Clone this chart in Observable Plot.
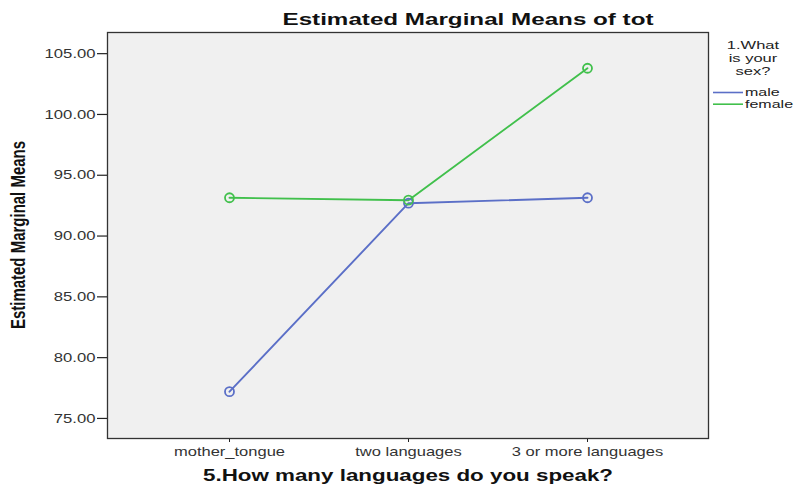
<!DOCTYPE html>
<html><head><meta charset="utf-8">
<script src="https://cdn.jsdelivr.net/npm/d3@7"></script>
<script src="https://cdn.jsdelivr.net/npm/@observablehq/plot@0.6"></script>
<style>body{margin:0;background:#fff;} svg{display:block}</style>
</head><body><div id="chart"></div>
<script>
const categories = ["mother_tongue", "two languages", "3 or more languages"];
const seriesNames = ["male", "female"];
const maleValues = [77.2, 92.7, 93.15];
const femaleValues = [93.15, 92.95, 103.8];
const yTicks = [75, 80, 85, 90, 95, 100, 105];
const seriesColors = ["#5b6fc7", "#41c04c"];
const legendTitleLines = ["1.What", "is your", "sex?"];

const rows = [];
categories.forEach((c, i) => rows.push({lang: c, sex: "male", value: maleValues[i]}));
categories.forEach((c, i) => rows.push({lang: c, sex: "female", value: femaleValues[i]}));

const FONT = "'Liberation Sans', Arial, sans-serif";

const chart = Plot.plot({
  width: 796, height: 485,
  marginLeft: 107, marginRight: 88, marginTop: 32, marginBottom: 47,
  style: {fontFamily: FONT, fontSize: "13px", color: "#333", background: "#fff"},
  x: {type: "point", domain: categories, padding: 0.672, label: null},
  y: {domain: [73.35, 106.74], label: null},
  color: {domain: seriesNames, range: seriesColors},
  marks: [
    Plot.frame({fill: "#f0f0f0", stroke: "none"}),
    Plot.axisY({ticks: yTicks, tickFormat: d => d.toFixed(2), tickSize: 10, tickPadding: 2, stroke: "#222", strokeWidth: 1.2, fill: "#333"}),
    Plot.axisX({tickSize: 4, tickPadding: 4, stroke: "#222", fill: "#333"}),
    Plot.line(rows, {x: "lang", y: "value", stroke: "sex", strokeWidth: 1.9}),
    Plot.dot(rows, {x: "lang", y: "value", stroke: "sex", r: 4.5, strokeWidth: 1.8, fill: "none"}),
    Plot.frame({stroke: "#333", strokeWidth: 1.3})
  ]
});
document.getElementById("chart").append(chart);

const svg = d3.select(chart);
function stretch(sel, k) {
  sel.each(function() {
    const L = this.getComputedTextLength();
    this.setAttribute("textLength", L * k);
    this.setAttribute("lengthAdjust", "spacingAndGlyphs");
  });
}
stretch(svg.selectAll('[aria-label="y-axis tick label"] text'), 1.28);
stretch(svg.selectAll('[aria-label="x-axis tick label"] text'), 1.27);

const g = svg.append("g").attr("font-family", FONT).attr("fill", "#111");
g.append("text").attr("x", 468).attr("y", 25).attr("text-anchor", "middle")
  .attr("font-weight", "bold").attr("font-size", 17)
  .attr("textLength", 371).attr("lengthAdjust", "spacingAndGlyphs")
  .text("Estimated Marginal Means of tot");
g.append("text").attr("x", 408).attr("y", 481).attr("text-anchor", "middle")
  .attr("font-weight", "bold").attr("font-size", 17)
  .attr("textLength", 410).attr("lengthAdjust", "spacingAndGlyphs")
  .text("5.How many languages do you speak?");
g.append("text").attr("transform", "translate(25,235) scale(1.3,1) rotate(-90)")
  .attr("text-anchor", "middle").attr("font-weight", "bold").attr("font-size", 15)
  .text("Estimated Marginal Means");

const lt = g.append("g").attr("fill", "#222");
const ltTitle = lt.append("g").attr("font-size", 11);
legendTitleLines.forEach((t, i) => {
  ltTitle.append("text").attr("x", 753).attr("y", 49 + i * 13).attr("text-anchor", "middle").text(t);
});
stretch(ltTitle.selectAll("text"), 1.5);
const ltItems = lt.append("g").attr("font-size", 10);
seriesNames.forEach((s, i) => {
  const y = 92.5 + i * 11.7;
  ltItems.append("line").attr("x1", 713).attr("x2", 743).attr("y1", y).attr("y2", y)
    .attr("stroke", seriesColors[i]).attr("stroke-width", 1.6);
  ltItems.append("text").attr("x", 745).attr("y", y + 3.5).attr("text-anchor", "start").text(s);
});
stretch(ltItems.selectAll("text"), 1.6);
</script>
</body></html>
